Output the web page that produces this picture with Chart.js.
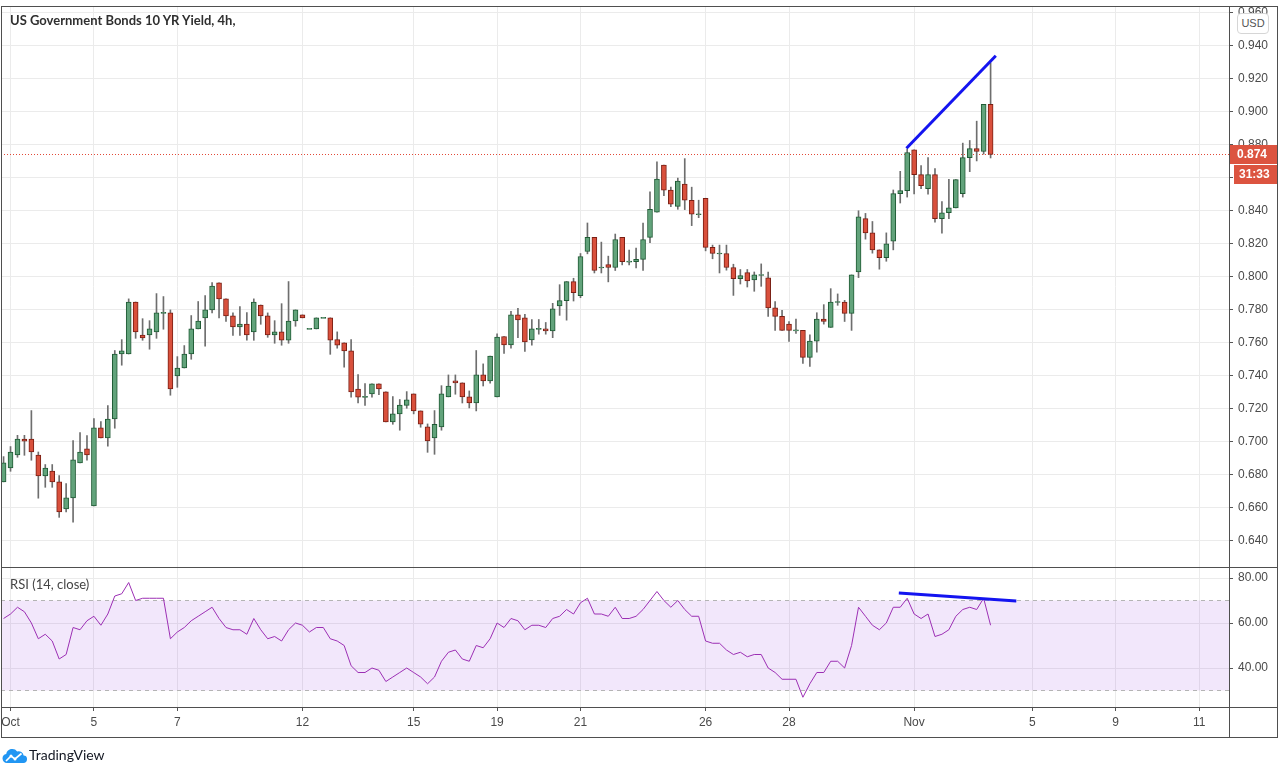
<!DOCTYPE html>
<html><head><meta charset="utf-8">
<script src="https://cdn.jsdelivr.net/npm/chart.js@4.4.0/dist/chart.umd.min.js"></script>
<style>
html,body{margin:0;padding:0;background:#fff;width:1284px;height:774px;overflow:hidden;font-family:"Liberation Sans",Arial,sans-serif;}
canvas{position:absolute;left:0;}
.ln{position:absolute;background:#4f4f4f;}
#title{position:absolute;left:10px;top:12px;font:700 13px Lato,"Open Sans",sans-serif;color:#2f2f2f;white-space:nowrap;}
#rsiTitle{position:absolute;left:10px;top:576px;font:400 13px Lato,"Open Sans",sans-serif;color:#444;white-space:nowrap;}
#usd{position:absolute;left:1237px;top:13px;width:30px;height:19px;border:1px solid #d6d6d6;border-radius:4px;background:#fff;font:11px "Liberation Sans",Arial,sans-serif;color:#555;text-align:center;line-height:19px;}
#tv{position:absolute;left:29px;top:746px;font:400 14px Lato,"Open Sans",sans-serif;color:#131722;}
</style></head><body>
<canvas id="c1" width="1284" height="568" style="top:0"></canvas>
<canvas id="c2" width="1284" height="207" style="top:567px"></canvas>
<div class="ln" style="left:1px;top:6px;width:1277px;height:1px"></div>
<div class="ln" style="left:1px;top:6px;width:1px;height:732px"></div>
<div class="ln" style="left:1277px;top:6px;width:1px;height:732px"></div>
<div class="ln" style="left:1229px;top:6px;width:1px;height:732px"></div>
<div class="ln" style="left:1px;top:567px;width:1277px;height:1px"></div>
<div class="ln" style="left:1px;top:707px;width:1277px;height:1px"></div>
<div class="ln" style="left:1px;top:737px;width:1277px;height:1px"></div>
<div id="title">US Government Bonds 10 YR Yield, 4h,</div>
<div id="rsiTitle">RSI (14, close)</div>
<div id="usd">USD</div>
<svg style="position:absolute;left:2px;top:747px" width="25" height="17" viewBox="0 0 25 17">
<path d="M5 16 A4.6 4.6 0 0 1 4.2 6.9 A6.2 6.2 0 0 1 15.2 4.4 A5 5 0 0 1 21.6 8.6 A3.7 3.7 0 0 1 21 16 Z" fill="#2196f3"/>
<polyline points="4,14 9,9 13,12 19.5,6.5" fill="none" stroke="#fff" stroke-width="1.7"/>
<circle cx="9" cy="9" r="1.5" fill="#fff"/><circle cx="13" cy="12" r="1.5" fill="#fff"/>
</svg>
<div id="tv">TradingView</div>
<script>
// ---- data ----
const opens = [.6758,.6842,.6921,.7018,.7018,.6921,.6794,.6824,.6758,.6594,.6661,.6873,.6958,.6612,.7085,.7024,.7139,.7533,.7533,.7848,
.7648,.7648,.7667,.7782,.7782,.7400,.7448,.7533,.7685,.7752,.7800,.7964,.7867,.7764,.7697,.7715,.7667,.7830,.7764,.7648,
.7667,.7616,.7733,.7770,.7685,.7685,.7752,.7752,.7620,.7600,.7552,.7321,.7273,.7291,.7352,.7303,.7121,.7170,.7222,.7291,
.7188,.7091,.7024,.7091,.7273,.7370,.7358,.7273,.7236,.7406,.7370,.7273,.7639,.7588,.7771,.7752,.7618,.7685,.7685,.7673,
.7825,.7856,.7972,.7886,.8154,.8240,.8057,.8075,.8057,.8240,.8093,.8093,.8106,.8240,.8392,.8678,.8526,.8428,.8562,.8465,
.8380,.8477,.8179,.8142,.8142,.8057,.7990,.8026,.7982,.8012,.7994,.7812,.7761,.7714,.7676,.7676,.7512,.7611,.7745,.7694,
.7848,.7848,.7779,.8030,.8353,.8267,.8164,.8116,.8217,.8505,.8523,.8770,.8620,.8535,.8620,.8353,.8389,.8419,.8505,.8723,
.8778,.8760,.9046];
const highs = [.6911,.6972,.7040,.7040,.7190,.6939,.6863,.6863,.6796,.6747,.7008,.7057,.7038,.7141,.7123,.7220,.7554,.7620,.7867,.7848,
.7747,.7735,.7899,.7881,.7800,.7517,.7584,.7766,.7851,.7887,.7966,.7964,.7867,.7782,.7820,.7784,.7867,.7830,.7782,.7735,
.7838,.7972,.7800,.7770,.7685,.7752,.7752,.7752,.7667,.7600,.7620,.7408,.7354,.7352,.7352,.7303,.7275,.7257,.7305,.7291,
.7188,.7109,.7190,.7341,.7406,.7406,.7358,.7309,.7554,.7473,.7521,.7655,.7639,.7791,.7809,.7773,.7742,.7742,.7724,.7840,
.7953,.7972,.7992,.8142,.8327,.8240,.8211,.8126,.8260,.8240,.8162,.8175,.8327,.8516,.8698,.8678,.8544,.8599,.8717,.8544,
.8465,.8477,.8193,.8193,.8193,.8077,.8045,.8045,.8030,.8079,.8030,.7850,.7797,.7730,.7745,.7676,.7649,.7783,.7832,.7929,
.7897,.7858,.8012,.8401,.8385,.8336,.8164,.8267,.8527,.8640,.8776,.8770,.8675,.8723,.8657,.8456,.8592,.8590,.8811,.8827,
.8944,.9046,.9297];
const lows = [.6758,.6822,.6907,.6919,.6889,.6659,.6725,.6725,.6543,.6576,.6513,.6873,.6889,.6612,.7024,.6974,.7083,.7465,.7533,.7628,
.7616,.7562,.7628,.7683,.7283,.7331,.7448,.7501,.7685,.7580,.7782,.7752,.7731,.7646,.7646,.7616,.7616,.7713,.7634,.7598,
.7586,.7598,.7701,.7752,.7685,.7685,.7752,.7531,.7568,.7453,.7271,.7236,.7222,.7271,.7287,.7121,.7107,.7071,.7204,.7170,
.7089,.6937,.6925,.7071,.7273,.7289,.7236,.7206,.7188,.7339,.7356,.7273,.7537,.7568,.7632,.7549,.7586,.7653,.7653,.7632,
.7767,.7738,.7854,.7874,.8140,.8024,.8024,.7970,.8039,.8073,.8073,.8055,.8039,.8207,.8392,.8493,.8426,.8410,.8408,.8311,
.8359,.8158,.8110,.8024,.8041,.7888,.7957,.7939,.7913,.7943,.7761,.7676,.7676,.7609,.7658,.7476,.7457,.7544,.7714,.7694,
.7828,.7730,.7676,.7996,.8229,.8144,.8047,.8095,.8164,.8448,.8484,.8503,.8535,.8501,.8332,.8265,.8353,.8419,.8484,.8638,
.8703,.8744,.8721];
const closes = [.6873,.6939,.7018,.7004,.6939,.6794,.6842,.6758,.6576,.6661,.6891,.6939,.6921,.7085,.7024,.7139,.7533,.7552,.7848,.7667,
.7630,.7685,.7782,.7782,.7321,.7448,.7533,.7685,.7733,.7800,.7945,.7867,.7764,.7697,.7715,.7648,.7848,.7764,.7648,.7667,
.7616,.7733,.7800,.7752,.7685,.7752,.7752,.7616,.7586,.7552,.7303,.7271,.7273,.7352,.7321,.7121,.7170,.7224,.7255,.7188,
.7107,.7006,.7107,.7291,.7339,.7358,.7273,.7236,.7406,.7370,.7521,.7636,.7588,.7771,.7740,.7606,.7685,.7685,.7673,.7807,
.7856,.7972,.7905,.8124,.8240,.8039,.8057,.8057,.8227,.8093,.8093,.8106,.8227,.8410,.8593,.8526,.8441,.8581,.8465,.8380,
.8380,.8179,.8142,.8142,.8057,.7990,.8008,.7976,.8012,.8012,.7812,.7761,.7676,.7676,.7676,.7512,.7611,.7745,.7730,.7848,
.7848,.7779,.8012,.8365,.8267,.8164,.8116,.8201,.8505,.8523,.8754,.8620,.8553,.8620,.8353,.8389,.8419,.8590,.8723,.8778,
.8760,.9046,.8742];
const rsi = [62,64,67,65,60,53,55,52,44,46,58,57,61,63,59,64,72,73,78,70,
71,71,71,71,53,56,58,61,63,65,67,62,58,57,57,55,62,57,53,54,
52,57,60,59,56,58,58,53,52,50,41,38,38,40,39,34,36,38,40,38,
36,33,36,43,47,48,44,43,50,49,53,60,58,62,61,57,59,59,58,62,
63,66,64,69,71,64,64,63,67,62,62,63,66,70,74,70,67,70,66,63,
63,52,51,51,48,46,47,45,46,46,40,38,35,35,35,27,33,38,38,43,
43,40,50,67,63,59,57,60,67,67,71,64,62,64,54,55,57,63,66,67,
66,71,59];
const dateTickIdx = [1,13,25,43,59,71,83,101,113,131,148,160,172];
const dateTickLabels = ['Oct','5','7','12','15','19','21','26','28','Nov','5','9','11'];
const priceTicks = [0.64,0.66,0.68,0.70,0.72,0.74,0.76,0.78,0.80,0.82,0.84,0.86,0.88,0.90,0.92,0.94,0.96];
const rsiTicks = [40,60,80];
const rsiBand = [30,70];
const priceTrend = [{x:129.9,y:0.878},{x:142.75,y:0.934}];
const rsiTrend = [{x:128.8,y:73.3},{x:145.7,y:69.8}];
const countdown = '31:33';

// ---- layout / style ----
const X_MIN = -0.37, X_MAX = 176.3;
const UP = '#62a37b', UP_B = '#1f5a34', DN = '#d9503c', DN_B = '#7a1f14', WICK = '#6e6e6e';
const GRID = '#ebebeb', AXIS = '#4f4f4f', TXT = '#4a4a4a';
const FONT = {family:'"Liberation Sans", Arial, sans-serif', size:12};
const idx = closes.map((_, i) => i);
const lastClose = closes[closes.length - 1];

const noPadX = s => { s.paddingLeft = 0; s.paddingRight = 0; };
const noPadY = s => { s.paddingTop = 0; s.paddingBottom = 0; };

const xAxisBase = () => ({
  type:'linear', min:X_MIN, max:X_MAX, offset:false,
  afterBuildTicks: s => { s.ticks = dateTickIdx.map(v => ({value:v})); },
});

const lastPricePlugin = {
  id:'lastPrice',
  afterDraw(chart){
    const ctx = chart.ctx, y = Math.round(chart.scales.y.getPixelForValue(lastClose));
    ctx.save();
    ctx.fillStyle = '#dc5440';
    ctx.fillRect(1230, y - 9, 47, 19);
    ctx.fillRect(1234, y + 11, 43, 19);
    ctx.fillStyle = '#fff';
    ctx.font = 'bold 12px "Liberation Sans", Arial, sans-serif';
    ctx.textBaseline = 'middle';
    ctx.fillText(lastClose.toFixed(3), 1237, y + 0.5);
    ctx.fillText(countdown, 1239, y + 20.5);
    ctx.restore();
  }
};

new Chart(document.getElementById('c1'), {
  type:'bar',
  data:{datasets:[
    {type:'line', data:[{x:X_MIN,y:lastClose},{x:X_MAX,y:lastClose}], borderColor:'#e24a38', borderWidth:1,
     borderDash:[1,2], pointRadius:0, order:5},
    {label:'wick', data: idx.map(i => ({x:i, y:[lows[i], highs[i]]})), backgroundColor:WICK,
     barThickness:1, grouped:false, order:4},
    {label:'body', data: idx.map(i => {
        let a = Math.min(opens[i], closes[i]), b = Math.max(opens[i], closes[i]);
        if (b - a < 0.0006) { const m = (a + b) / 2; a = m - 0.0003; b = m + 0.0003; }
        return {x:i, y:[a, b]};
      }),
     backgroundColor: idx.map(i => closes[i] >= opens[i] ? UP : DN),
     borderColor: idx.map(i => closes[i] >= opens[i] ? UP_B : DN_B),
     borderWidth:1, borderSkipped:false, barThickness:5, grouped:false, order:3},
    {type:'line', data:priceTrend, borderColor:'#1414f0', borderWidth:3, pointRadius:0, order:1}
  ]},
  options:{
    responsive:false, animation:false, devicePixelRatio:1,
    layout:{padding:{left:1, right:7, top:6, bottom:1}},
    plugins:{legend:{display:false}, tooltip:{enabled:false}},
    scales:{
      x: Object.assign(xAxisBase(), {
        ticks:{display:false}, grid:{color:GRID, drawTicks:false, offset:false}, border:{display:false},
        afterFit: s => { s.height = 0; noPadX(s); }
      }),
      y:{
        position:'right', min:0.6242, max:0.9642,
        afterBuildTicks: s => { s.ticks = priceTicks.map(v => ({value:v})); },
        ticks:{callback: v => v.toFixed(3), font:FONT, color:TXT, padding:5},
        grid:{color:GRID, tickColor:'#555', tickLength:4},
        border:{color:AXIS},
        afterFit: s => { s.width = 48; noPadY(s); }
      }
    }
  },
  plugins:[lastPricePlugin]
});

new Chart(document.getElementById('c2'), {
  type:'line',
  data:{datasets:[
    {data:[{x:X_MIN,y:rsiBand[1]},{x:X_MAX,y:rsiBand[1]}], borderColor:'#b4b4b4', borderWidth:1, borderDash:[4,4],
     pointRadius:0, fill:'+1', backgroundColor:'rgba(150,60,220,0.12)', order:5},
    {data:[{x:X_MIN,y:rsiBand[0]},{x:X_MAX,y:rsiBand[0]}], borderColor:'#b4b4b4', borderWidth:1, borderDash:[4,4],
     pointRadius:0, fill:false, order:4},
    {data: idx.map(i => ({x:i, y:rsi[i]})), borderColor:'#9c2fb4', borderWidth:1, pointRadius:0, tension:0, fill:false, order:2},
    {data: rsiTrend, borderColor:'#1414f0', borderWidth:3, pointRadius:0, fill:false, order:1}
  ]},
  options:{
    responsive:false, animation:false, devicePixelRatio:1,
    layout:{padding:{left:1, right:7, top:0, bottom:37}},
    plugins:{legend:{display:false}, tooltip:{enabled:false}},
    scales:{
      x: Object.assign(xAxisBase(), {
        ticks:{autoSkip:false, maxRotation:0, callback:(v, i) => dateTickLabels[i], font:FONT, color:TXT, padding:4},
        grid:{color:GRID, tickColor:'#555', tickLength:4, offset:false},
        border:{color:AXIS},
        afterFit: s => { s.height = 30; noPadX(s); }
      }),
      y:{
        position:'right', min:22.67, max:84.89,
        afterBuildTicks: s => { s.ticks = rsiTicks.map(v => ({value:v})); },
        ticks:{callback: v => v.toFixed(2), font:FONT, color:TXT, padding:5},
        grid:{color:GRID, tickColor:'#555', tickLength:4},
        border:{color:AXIS},
        afterFit: s => { s.width = 48; noPadY(s); }
      }
    }
  }
});
</script>
</body></html>
